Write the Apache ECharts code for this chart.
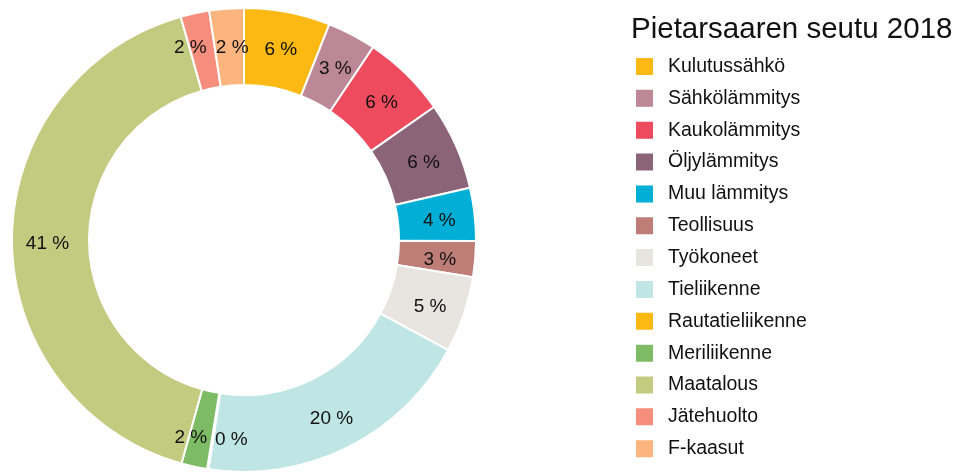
<!DOCTYPE html>
<html>
<head>
<meta charset="utf-8">
<style>
  html, body { margin: 0; padding: 0; background: #fff; }
  #chart { width: 960px; height: 472px; }
</style>
<script src="https://cdn.jsdelivr.net/npm/echarts@6/dist/echarts.min.js"></script>
</head>
<body>
<div id="chart"></div>
<script>
const title = 'Pietarsaaren seutu 2018'
const categories = ['Kulutussähkö', 'Sähkölämmitys', 'Kaukolämmitys', 'Öljylämmitys', 'Muu lämmitys', 'Teollisuus', 'Työkoneet', 'Tieliikenne', 'Rautatieliikenne', 'Meriliikenne', 'Maatalous', 'Jätehuolto', 'F-kaasut']
const shares = [6.0, 3.4, 5.9, 6.1, 3.7, 2.5, 5.3, 19.6, 0.1, 1.8, 41.3, 2.0, 2.4]
const colors = ['#fdb913', '#bc8796', '#ef4b5e', '#8c6479', '#00aed6', '#bf7d78', '#e8e5e0', '#bfe5e5', '#fdb913', '#7dbb65', '#c3cb80', '#f68e7e', '#fdb57f']

// small nudges so neighbouring labels sit like in the original
const labelNudge = {
  'Rautatieliikenne': [18, 6],
  'Meriliikenne': [-11, 6],
  'Jätehuolto': [-12, 0],
  'F-kaasut': [3, 4],
}

const font = 'Liberation Sans, Arial, sans-serif'
const chart = echarts.init(document.getElementById('chart'))

chart.setOption({
  animation: false,
  title: {
    text: title,
    left: 631,
    top: 15,
    padding: 0,
    textStyle: { fontFamily: font, fontSize: 29.5, fontWeight: 'normal', color: '#111' },
  },
  legend: {
    orient: 'vertical',
    left: 634,
    top: 56,
    height: 420,
    padding: 0,
    itemWidth: 19,
    itemHeight: 19,
    itemGap: 10.85,
    icon: 'rect',
    selectedMode: false,
    textStyle: { fontFamily: font, fontSize: 19.5, lineHeight: 19, color: '#111', padding: [0, 0, 0, 9] },
    data: categories,
  },
  series: [
    {
      type: 'pie',
      center: [244, 240],
      radius: [155, 232],
      startAngle: 90,
      clockwise: true,
      avoidLabelOverlap: false,
      labelLayout: { hideOverlap: false },
      itemStyle: { borderColor: '#fff', borderWidth: 2 },
      label: {
        show: true,
        position: 'inside',
        offset: [0, 3],
        fontFamily: font,
        fontSize: 19,
        color: '#111',
        formatter: (p) => Math.round(p.value) + ' %',
      },
      labelLine: { show: false },
      data: categories.map((name, i) => ({
        name,
        value: shares[i],
        itemStyle: { color: colors[i] },
        label: labelNudge[name] ? { offset: labelNudge[name] } : undefined,
      })),
    },
  ],
})
</script>
</body>
</html>
